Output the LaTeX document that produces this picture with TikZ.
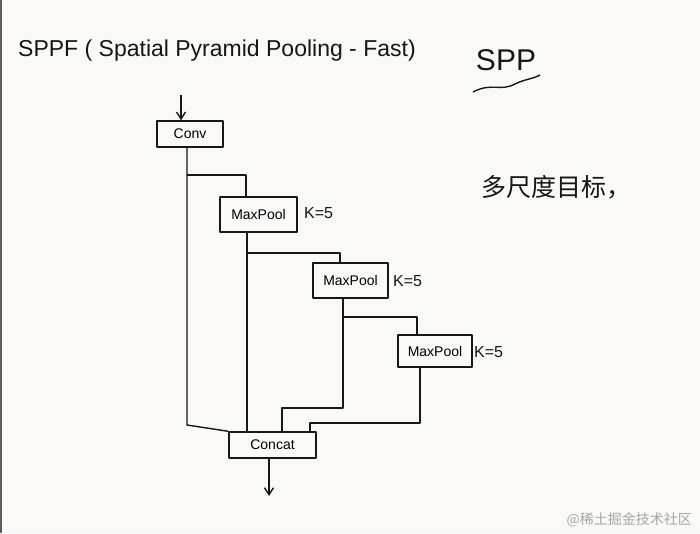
\documentclass[tikz,border=0pt]{standalone}
\usepackage{fontspec}
\setmainfont{Liberation Sans}
\newfontfamily\cjkfont{Noto Sans CJK SC}
\usetikzlibrary{arrows.meta}

\newlength{\du}
\setlength{\du}{1pt}

\definecolor{papercolor}{rgb}{0.984, 0.976, 0.965}
\definecolor{inkcolor}{rgb}{0.090, 0.090, 0.090}
\definecolor{markcolor}{rgb}{0.650, 0.650, 0.650}

\tikzset{
  ink/.style={draw=inkcolor, line width=1.4pt, line join=round},
  layerbox/.style={ink, fill=papercolor, inner sep=0pt, font=\fontsize{14}{16}\selectfont},
  kernel/.style={anchor=west, text=inkcolor, inner sep=0pt, font=\fontsize{16}{18}\selectfont},
  flow/.style={ink, -{Straight Barb[length=7pt,width=9pt]}},
}

\begin{document}
\begin{tikzpicture}
  \pgftransformxscale{1.000000}
  \pgftransformyscale{-1.000000}
  % paper
  \fill[papercolor] (0\du,0\du) rectangle (700\du,533\du);
  \fill[inkcolor!70] (0\du,0\du) rectangle (2\du,533\du);
  \useasboundingbox (0\du,0\du) rectangle (700\du,533\du);
  % headings
  \node[anchor=base west, text=inkcolor, inner sep=0pt, font=\fontsize{23}{26}\selectfont] (title) at (18\du,56\du){SPPF ( Spatial Pyramid Pooling - Fast)};
  \node[text=inkcolor, inner sep=0pt, font=\fontsize{30}{32}\selectfont] (spp) at (506\du,60\du){SPP};
  \draw[ink] (473\du,92\du) .. controls (492\du,82\du) and (500\du,92\du) .. (515\du,84\du) .. controls (525\du,79\du) and (533\du,79\du) .. (540\du,75\du);
  \node[text=inkcolor, inner sep=0pt, font=\cjkfont\fontsize{25}{27}\selectfont] (note) at (556\du,187\du){多尺度目标，};
  % layers
  \node[layerbox, minimum width=66\du, minimum height=26\du] (conv) at (190\du,134\du){Conv};
  \node[layerbox, minimum width=77\du, minimum height=35\du] (pool1) at (258.5\du,214.5\du){MaxPool};
  \node[layerbox, minimum width=75\du, minimum height=35\du] (pool2) at (350.5\du,280.5\du){MaxPool};
  \node[layerbox, minimum width=74\du, minimum height=32\du] (pool3) at (435\du,351\du){MaxPool};
  \node[layerbox, minimum width=87\du, minimum height=26\du] (concat) at (272.5\du,445\du){Concat};
  \node[kernel] (k1) at (304\du,213\du){K=5};
  \node[kernel] (k2) at (393\du,281\du){K=5};
  \node[kernel] (k3) at (474\du,352\du){K=5};
  % corners
  \coordinate (in) at (181\du,95\du);
  \coordinate (out) at (269\du,496\du);
  \coordinate (trunk) at (187\du,425\du);
  \coordinate (split1) at (187\du,175\du);
  \coordinate (turn1) at (246\du,175\du);
  \coordinate (split2) at (247\du,253\du);
  \coordinate (turn2) at (340\du,253\du);
  \coordinate (drop2) at (343\du,408\du);
  \coordinate (land2) at (282\du,408\du);
  \coordinate (split3) at (343\du,317\du);
  \coordinate (turn3) at (417\du,317\du);
  \coordinate (drop3) at (420\du,423\du);
  \coordinate (land3) at (310\du,423\du);
  % connectors
  \draw[flow] (in) -- (in |- conv.north);
  \draw[ink] (conv.south -| trunk) -- (trunk) -- (concat.north west);
  \draw[ink] (split1) -- (turn1) -- (turn1 |- pool1.north);
  \draw[ink] (pool1.south -| split2) -- (concat.north -| split2);
  \draw[ink] (split2) -- (turn2) -- (turn2 |- pool2.north);
  \draw[ink] (pool2.south -| drop2) -- (drop2) -- (land2) -- (concat.north -| land2);
  \draw[ink] (split3) -- (turn3) -- (turn3 |- pool3.north);
  \draw[ink] (pool3.south -| drop3) -- (drop3) -- (land3) -- (concat.north -| land3);
  \draw[flow] (concat.south -| out) -- (out);
  % watermark
  \node[anchor=east, text=markcolor, inner sep=0pt, font=\cjkfont\fontsize{14}{16}\selectfont] (mark) at (692\du,520\du){@稀土掘金技术社区};
\end{tikzpicture}
\end{document}
